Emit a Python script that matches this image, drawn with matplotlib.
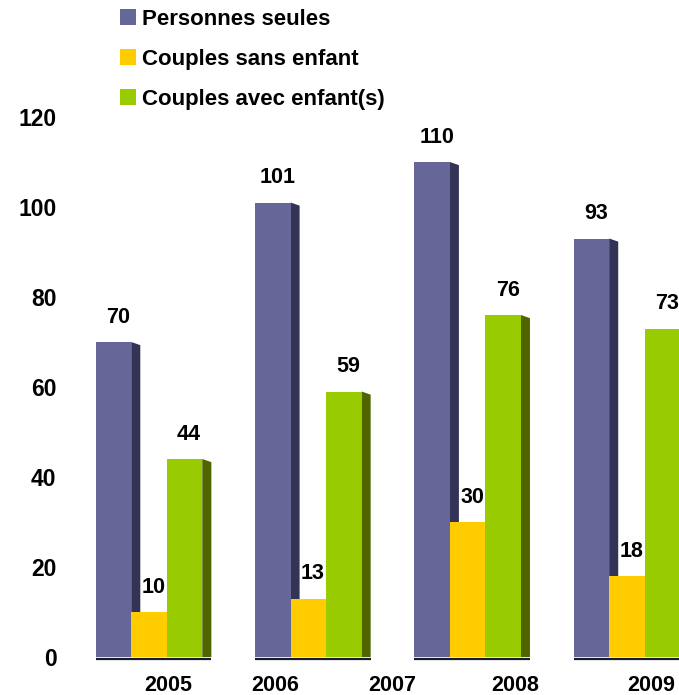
import numpy as np
import matplotlib.pyplot as plt
from matplotlib.patches import Polygon, Patch

plt.rcParams['font.family'] = ['Liberation Sans', 'DejaVu Sans']
plt.rcParams['font.weight'] = 'bold'

# data
series = ['Personnes seules', 'Couples sans enfant', 'Couples avec enfant(s)']
seules = [70, 101, 110, 93]
sans_enfant = [10, 13, 30, 18]
avec_enfant = [44, 59, 76, 73]
years = ['2005', '2006', '2007', '2008', '2009']
# where the year labels sit (they do not line up with the groups in the original)
year_pos = [0.12, 0.79, 1.53, 2.3, 3.15]

colors = ['#666699', '#FFCC00', '#99CC00']
side_colors = ['#333355', '#806600', '#4F6600']

fig = plt.figure(figsize=(6.79, 6.95), dpi=100)
ax = fig.add_axes([80 / 679, 38 / 695, 1 - 80 / 679, (657 - 117) / 695])

x = np.arange(len(seules))
w = 0.223
depth = 0.057   # side face width (x units)
drop = 0.7      # side face slant (y units)

for k, vals in enumerate([seules, sans_enfant, avec_enfant]):
    xs = x + (k - 1) * w
    ax.bar(xs, vals, w, color=colors[k], zorder=2 + 2 * k, linewidth=0)
    for xi, v in zip(xs, vals):
        r = xi + w / 2
        side = Polygon([(r, 0), (r, v), (r + depth, v - drop), (r + depth, 0)],
                       closed=True, facecolor=side_colors[k], edgecolor='none',
                       zorder=1 + 2 * k)
        ax.add_patch(side)
        ax.text(xi + depth / 2, v + 3.2, str(v), ha='center', va='bottom',
                fontsize=15.5, fontweight='bold', zorder=10)

# floor shadow under each group
for xi in x:
    ax.plot([xi - 1.5 * w, xi + 1.5 * w + depth], [-0.35, -0.35], color='#1a1a2a',
            lw=1.6, solid_capstyle='butt', clip_on=False, zorder=0)

ax.set_ylim(0, 120)
ax.set_xlim(-0.433, 3.327)
ax.set_yticks([0, 20, 40, 60, 80, 100, 120])
ax.set_xticks(year_pos)
ax.set_xticklabels(years)
ax.tick_params(axis='y', length=0, pad=17, labelsize=16.5)
ax.tick_params(axis='x', length=0, pad=13, labelsize=15.5)
for s in ax.spines.values():
    s.set_visible(False)

handles = [Patch(facecolor=c, edgecolor='none') for c in colors]
fig.legend(handles, series, loc='upper left', bbox_to_anchor=(120 / 679, 1 - 9 / 695),
           frameon=False, handlelength=0.7, handleheight=0.7,
           handletextpad=0.3, labelspacing=0.85, borderpad=0, borderaxespad=0,
           prop={'weight': 'bold', 'size': 16})

fig.savefig('out.png', dpi=100)
